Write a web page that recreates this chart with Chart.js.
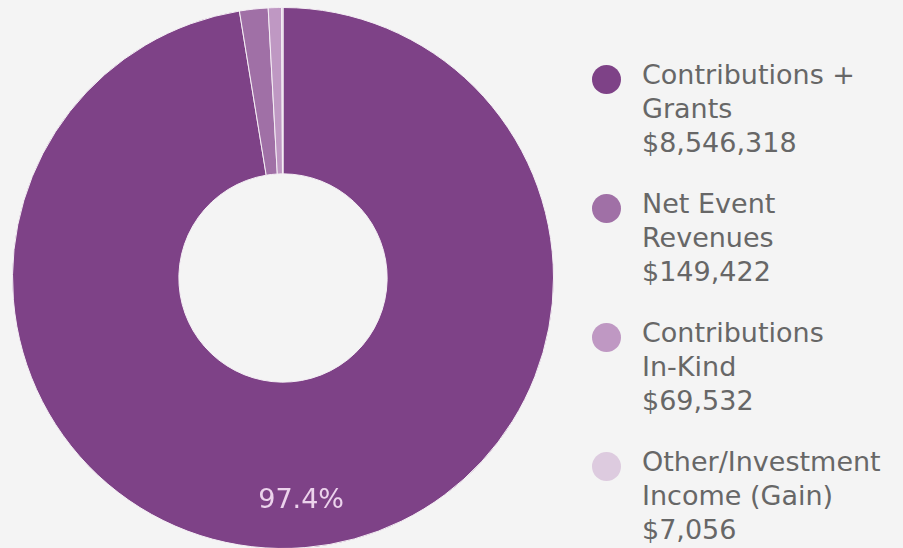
<!DOCTYPE html>
<html>
<head>
<meta charset="utf-8">
<script src="https://cdn.jsdelivr.net/npm/chart.js@4.4.0/dist/chart.umd.min.js"></script>
<style>
  html, body { margin: 0; padding: 0; background: #f4f4f4; width: 903px; height: 548px; overflow: hidden; }
  #wrap { position: absolute; left: 12px; top: 7px; width: 542px; height: 542px; }
  #legend { position: absolute; left: 592px; top: 58px; font-family: "DejaVu Sans", sans-serif; font-size: 27px; color: #676767; }
  .item { position: relative; padding-left: 50px; line-height: 34px; height: 102px; margin-bottom: 27px; white-space: nowrap; }
  .dot { position: absolute; left: 0; top: 7px; width: 29px; height: 29px; border-radius: 50%; }
</style>
</head>
<body>
<div id="wrap"><canvas id="chart"></canvas></div>
<div id="legend"></div>
<script>
(function () {
    const labels = ['Contributions + Grants', 'Net Event Revenues', 'Contributions In-Kind', 'Other/Investment Income (Gain)'];
    const legend_lines = [
        ['Contributions +', 'Grants', '$8,546,318'],
        ['Net Event', 'Revenues', '$149,422'],
        ['Contributions', 'In-Kind', '$69,532'],
        ['Other/Investment', 'Income (Gain)', '$7,056']
    ];
    const values = [8546318, 149422, 69532, 7056];
    const colors = ['#7e4287', '#a070a6', '#bf98c3', '#ddcbdf'];

    // legend in html
    var lg = document.getElementById('legend');
    legend_lines.forEach(function (lines, i) {
        var d = document.createElement('div');
        d.className = 'item';
        d.innerHTML = '<span class="dot" style="background:' + colors[i] + '"></span>' + lines.join('<br>');
        lg.appendChild(d);
    });

    const total = values.reduce(function (a, b) { return a + b; }, 0);

    const pctLabel = {
        id: 'pctLabel',
        afterDatasetsDraw: function (chart) {
            var ctx = chart.ctx;
            var meta = chart.getDatasetMeta(0);
            meta.data.forEach(function (arc, i) {
                var pct = values[i] / total * 100;
                if (pct < 5) return;
                var p = arc.getProps(['x', 'y', 'startAngle', 'endAngle', 'innerRadius', 'outerRadius'], true);
                var a = (p.startAngle + p.endAngle) / 2;
                var r = p.innerRadius + 0.72 * (p.outerRadius - p.innerRadius);
                ctx.save();
                ctx.fillStyle = '#ecd3ec';
                ctx.font = '27px "DejaVu Sans", sans-serif';
                ctx.textAlign = 'center';
                ctx.textBaseline = 'middle';
                ctx.fillText(pct.toFixed(1) + '%', p.x + Math.cos(a) * r, p.y + Math.sin(a) * r);
                ctx.restore();
            });
        }
    };

    var ctx = document.getElementById('chart');
    new Chart(ctx, {
        type: 'doughnut',
        data: {
            labels: labels,
            datasets: [{
                data: values,
                backgroundColor: colors,
                borderColor: '#f4eef4',
                borderWidth: 1
            }]
        },
        options: {
            responsive: true,
            maintainAspectRatio: false,
            animation: false,
            cutout: '38.5%',
            plugins: {
                legend: { display: false },
                tooltip: { enabled: false }
            }
        },
        plugins: [pctLabel]
    });
})();
</script>
</body>
</html>
